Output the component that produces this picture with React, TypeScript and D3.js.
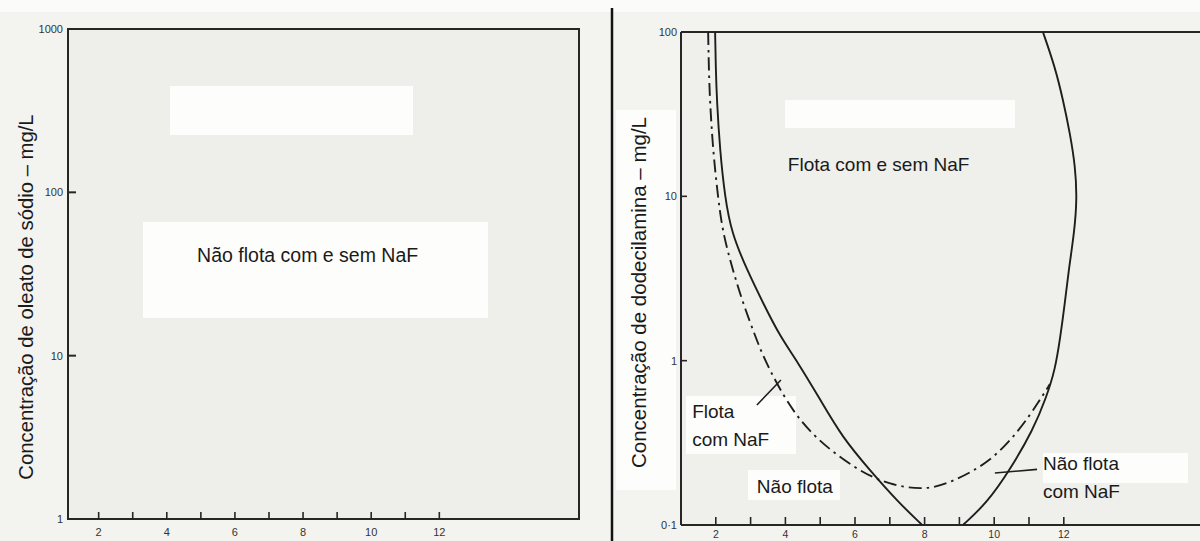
import React from 'react';
import * as d3 from 'd3';

// ---------- data ----------
const xMajorTicks = [2, 4, 6, 8, 10, 12];
const xMinorTicks = [3, 5, 7, 9, 11];

const leftYTicks = [1, 10, 100, 1000];
const leftYTickLabels = ['1', '10', '100', '1000'];
const rightYTicks = [0.1, 1, 10, 100];
const rightYTickLabels = ['0·1', '1', '10', '100'];

const leftAxisTitle = 'Concentração de oleato de sódio – mg/L';
const rightAxisTitle = 'Concentração de dodecilamina – mg/L';

// pH, concentration (mg/L) — solid boundary, left branch (without NaF)
const solidLeftBranch: [number, number][] = [
  [1.98, 100], [2.0, 60], [2.03, 38.5], [2.12, 19], [2.26, 10], [2.45, 6],
  [2.9, 3.55], [3.36, 2.24], [3.85, 1.4], [4.33, 1], [5.0, 0.58],
  [5.63, 0.343], [6.43, 0.215], [7.24, 0.138], [7.93, 0.1],
];
// solid boundary, right branch
const solidRightBranch: [number, number][] = [
  [9.1, 0.1], [9.79, 0.136], [10.45, 0.216], [11.12, 0.38], [11.5, 0.6],
  [11.75, 0.88], [11.9, 1.39], [12.03, 2.24], [12.14, 3.55], [12.3, 6],
  [12.38, 9.6], [12.33, 15.2], [12.18, 24], [11.98, 38.5], [11.75, 61],
  [11.4, 100],
];
// dash-dot boundary (with NaF)
const dashDotBoundary: [number, number][] = [
  [1.78, 100], [1.8, 60], [1.83, 38.5], [1.92, 19], [2.06, 10], [2.2, 6],
  [2.49, 3.55], [2.78, 2.24], [3.15, 1.38], [3.41, 1], [4.05, 0.55],
  [4.8, 0.343], [6.06, 0.215], [7.0, 0.175], [8.0, 0.163], [8.73, 0.18],
  [9.88, 0.24], [10.74, 0.38], [11.3, 0.57], [11.6, 0.72],
];

// annotations (data coordinates)
const leftRegionLabel = { text: 'Não flota com e sem NaF', x: 4.89, y: 37.5 };
const rightLabels = [
  { lines: ['Flota com e sem NaF'], x: 4.07, y: 14.3 },
  { lines: ['Flota', 'com NaF'], x: 1.32, y: 0.448 },
  { lines: ['Não flota'], x: 3.18, y: 0.1567 },
  { lines: ['Não flota', 'com NaF'], x: 11.4, y: 0.216 },
];
const leaders: [number, number][][] = [
  [[3.18, 0.537], [3.87, 0.762]],
  [[11.23, 0.218], [10.02, 0.207]],
];

// scan artefacts: white paper patches [x, y, w, h]
const whitePatches: [number, number, number, number][] = [
  [170, 86, 243, 49],
  [143, 222, 345, 96],
  [785, 100, 230, 28],
  [1043, 453, 145, 30],
  [686, 396, 110, 58],
  [748, 470, 92, 30],
  [616, 110, 60, 380],
];

const FONT = '"Liberation Sans", Arial, Helvetica, sans-serif';
const INK = '#262626';

export default function App() {
  // left chart scales
  const lx = d3.scaleLinear().domain([1.1, 16.1]).range([68, 579]);
  const ly = d3.scaleLog().domain([1, 1000]).range([519, 29]);
  // right chart scales
  const rx = d3.scaleLinear().domain([1, 16]).range([681, 1203]);
  const ry = d3.scaleLog().domain([0.1, 100]).range([525, 32]);

  const line = d3
    .line<[number, number]>()
    .x((d) => rx(d[0]))
    .y((d) => ry(d[1]))
    .curve(d3.curveBasis);
  const straight = d3
    .line<[number, number]>()
    .x((d) => rx(d[0]))
    .y((d) => ry(d[1]));

  const lxMin = lx.range()[0];
  const lxMax = lx.range()[1];
  const lyBottom = ly.range()[0];
  const lyTop = ly.range()[1];
  const rxMin = rx.range()[0];
  const ryBottom = ry.range()[0];
  const ryTop = ry.range()[1];

  return (
    <svg
      width={1200}
      height={541}
      style={{ position: 'absolute', left: 0, top: 0, background: '#f3f3ef' }}
      fontFamily={FONT}
    >
      <rect x={0} y={0} width={1200} height={541} fill="#f3f3ef" />
      <rect x={0} y={0} width={1200} height={12} fill="#fbfbf9" />
      <rect x={lxMin} y={lyTop} width={lxMax - lxMin} height={lyBottom - lyTop} fill="#eeeeea" />
      <rect x={rxMin} y={ryTop} width={1200 - rxMin} height={ryBottom - ryTop} fill="#efefeb" />
      {whitePatches.map(([x, y, w, h], i) => (
        <rect key={i} x={x} y={y} width={w} height={h} fill="#fdfdfb" />
      ))}

      {/* ---------- left chart ---------- */}
      <g>
        <rect
          x={lxMin}
          y={lyTop}
          width={lxMax - lxMin}
          height={lyBottom - lyTop}
          fill="none"
          stroke={INK}
          strokeWidth={2}
        />
        {leftYTicks.map((t, i) => (
          <g key={t}>
            {t !== 1 && t !== 1000 && (
              <line x1={lxMin} x2={lxMin + 8} y1={ly(t)} y2={ly(t)} stroke={INK} strokeWidth={2} />
            )}
            <text x={lxMin - 5} y={ly(t) + 4} textAnchor="end" fontSize={11} fill="#333">
              {leftYTickLabels[i]}
            </text>
          </g>
        ))}
        {xMajorTicks.concat(xMinorTicks).map((t) => (
          <line key={t} x1={lx(t)} x2={lx(t)} y1={lyBottom} y2={lyBottom - 7} stroke={INK} strokeWidth={1.6} />
        ))}
        {xMajorTicks.map((t) => (
          <text key={t} x={lx(t)} y={lyBottom + 17} textAnchor="middle" fontSize={11} fill="#333">
            {t}
          </text>
        ))}
        <text
          transform={`translate(33, ${(lyTop + lyBottom) / 2 + 23}) rotate(-90)`}
          textAnchor="middle"
          fontSize={20.3}
          fill="#1a1a1a"
        >
          {leftAxisTitle}
        </text>
        <text x={lx(leftRegionLabel.x)} y={ly(leftRegionLabel.y)} fontSize={19.5} fill="#1a1a1a">
          {leftRegionLabel.text}
        </text>
      </g>

      {/* separator */}
      <line x1={612} x2={612} y1={8} y2={541} stroke="#111" strokeWidth={2.5} />

      {/* ---------- right chart ---------- */}
      <g>
        <line x1={rxMin} x2={1200} y1={ryTop} y2={ryTop} stroke={INK} strokeWidth={2} />
        <line x1={rxMin} x2={1200} y1={ryBottom} y2={ryBottom} stroke={INK} strokeWidth={2} />
        <line x1={rxMin} x2={rxMin} y1={ryTop} y2={ryBottom} stroke={INK} strokeWidth={2} />
        {rightYTicks.map((t, i) => (
          <g key={t}>
            {t !== 0.1 && t !== 100 && (
              <line x1={rxMin} x2={rxMin + 6} y1={ry(t)} y2={ry(t)} stroke={INK} strokeWidth={1.6} />
            )}
            <text x={rxMin - 4} y={ry(t) + 4} textAnchor="end" fontSize={11} fill="#333">
              {rightYTickLabels[i]}
            </text>
          </g>
        ))}
        {xMajorTicks.concat(xMinorTicks).map((t) => (
          <line key={t} x1={rx(t)} x2={rx(t)} y1={ryBottom} y2={ryBottom - 8} stroke={INK} strokeWidth={1.6} />
        ))}
        {xMajorTicks.map((t) => (
          <text key={t} x={rx(t)} y={ryBottom + 13} textAnchor="middle" fontSize={10.5} fill="#333">
            {t}
          </text>
        ))}
        <text
          transform={`translate(646, ${(ryTop + ryBottom) / 2 + 14}) rotate(-90)`}
          textAnchor="middle"
          fontSize={20.5}
          fill="#1a1a1a"
        >
          {rightAxisTitle}
        </text>

        <path d={line(solidLeftBranch) || ''} fill="none" stroke="#1e1e1e" strokeWidth={1.9} />
        <path d={line(solidRightBranch) || ''} fill="none" stroke="#1e1e1e" strokeWidth={1.9} />
        <path
          d={line(dashDotBoundary) || ''}
          fill="none"
          stroke="#1e1e1e"
          strokeWidth={1.9}
          strokeDasharray="13,5,2.5,5"
        />
        {leaders.map((pts, i) => (
          <path key={i} d={straight(pts) || ''} fill="none" stroke="#1e1e1e" strokeWidth={1.6} />
        ))}
        {rightLabels.map((lab, i) => (
          <text key={i} x={rx(lab.x)} y={ry(lab.y)} fontSize={19} fill="#1a1a1a">
            {lab.lines.map((ln, j) => (
              <tspan key={j} x={rx(lab.x)} dy={j === 0 ? 0 : 28}>
                {ln}
              </tspan>
            ))}
          </text>
        ))}
      </g>
    </svg>
  );
}
